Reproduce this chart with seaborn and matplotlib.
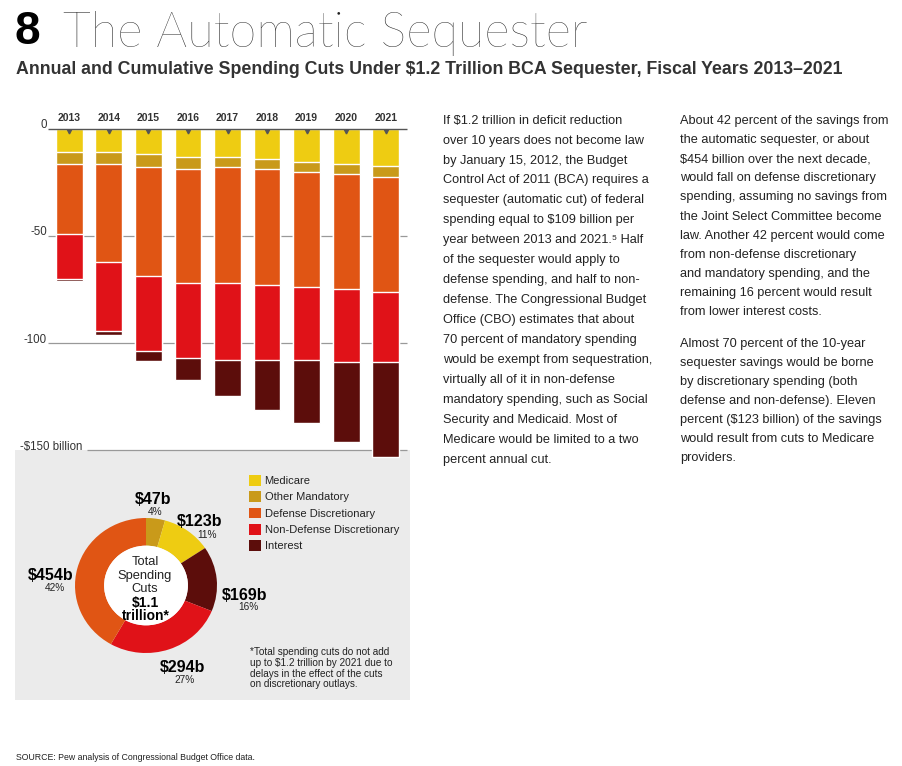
import matplotlib
matplotlib.use("Agg")
import matplotlib.pyplot as plt
from matplotlib.patches import Rectangle, Circle, Patch
import seaborn as sns
import pandas as pd
import numpy as np

# ---- data (billions of dollars) ----
years = ["2013", "2014", "2015", "2016", "2017", "2018", "2019", "2020", "2021"]
categories = ["Medicare", "Other Mandatory", "Defense Discretionary",
              "Non-Defense Discretionary", "Interest"]
medicare = [11, 11, 12, 13, 13, 14, 15.5, 16.5, 17.5]
other_mandatory = [5.5, 5.5, 6, 6, 5, 5, 4.5, 4.5, 5]
defense = [32.5, 45.5, 50.5, 53, 54, 54, 54, 54, 53.5]
non_defense = [21, 32.5, 35, 35, 36, 35, 34, 34, 33]
interest = [1.2, 1.5, 5, 10, 16.5, 23, 29.5, 37, 44]

y_ticks = [0, -50, -100, -150]
y_tick_labels = ["0", "-50", "-100", "-$150 billion"]

# donut, clockwise from 12 o'clock
donut_names = ["Other Mandatory", "Medicare", "Interest",
               "Non-Defense Discretionary", "Defense Discretionary"]
donut_values = [47, 123, 169, 294, 454]
donut_value_labels = ["$47b", "$123b", "$169b", "$294b", "$454b"]
donut_pct_labels = ["4%", "11%", "16%", "27%", "42%"]

colors = {
    "Medicare": "#EECC12",
    "Other Mandatory": "#C99A1A",
    "Defense Discretionary": "#E05514",
    "Non-Defense Discretionary": "#E01218",
    "Interest": "#5C0D0B",
}

col1 = [
    "If $1.2 trillion in deficit reduction",
    "over 10 years does not become law",
    "by January 15, 2012, the Budget",
    "Control Act of 2011 (BCA) requires a",
    "sequester (automatic cut) of federal",
    "spending equal to $109 billion per",
    "year between 2013 and 2021.\u2075 Half",
    "of the sequester would apply to",
    "defense spending, and half to non-",
    "defense. The Congressional Budget",
    "Office (CBO) estimates that about",
    "70 percent of mandatory spending",
    "would be exempt from sequestration,",
    "virtually all of it in non-defense",
    "mandatory spending, such as Social",
    "Security and Medicaid. Most of",
    "Medicare would be limited to a two",
    "percent annual cut.",
]
col2a = [
    "About 42 percent of the savings from",
    "the automatic sequester, or about",
    "$454 billion over the next decade,",
    "would fall on defense discretionary",
    "spending, assuming no savings from",
    "the Joint Select Committee become",
    "law. Another 42 percent would come",
    "from non-defense discretionary",
    "and mandatory spending, and the",
    "remaining 16 percent would result",
    "from lower interest costs.",
]
col2b = [
    "Almost 70 percent of the 10-year",
    "sequester savings would be borne",
    "by discretionary spending (both",
    "defense and non-defense). Eleven",
    "percent ($123 billion) of the savings",
    "would result from cuts to Medicare",
    "providers.",
]
footnote = ["*Total spending cuts do not add",
            "up to $1.2 trillion by 2021 due to",
            "delays in the effect of the cuts",
            "on discretionary outlays."]

sns.set_theme(style="white")
plt.rcParams['font.family'] = ['Liberation Sans', 'DejaVu Sans']

W, H = 902, 766
fig = plt.figure(figsize=(W / 100, H / 100), dpi=100)
fig.patch.set_facecolor("white")


def rect(x, y, w, h):
    return [x / W, 1 - (y + h) / H, w / W, h / H]


def ftext(x, y, s, **kw):
    fig.text(x / W, 1 - y / H, s, **kw)


# grey panel behind the donut
fig.patches.append(Rectangle((15 / W, 1 - 700 / H), 395 / W, 250 / H,
                             transform=fig.transFigure, facecolor="#EBEBEB",
                             edgecolor="none", zorder=-1))

# ---- titles ----
ftext(15, 32, "8", fontsize=33, fontweight="bold", color="black", va="center")
ftext(63, 33, "The Automatic Sequester", fontsize=35, fontweight=100,
      family=["Lato", "DejaVu Sans"], color="#222", va="center")
ftext(16, 70, "Annual and Cumulative Spending Cuts Under $1.2 Trillion BCA Sequester, Fiscal Years 2013\u20132021",
      fontsize=12.75, fontweight="bold", color="#333", va="center")

# ---- stacked bars ----
df = pd.DataFrame({"year": years, "Medicare": medicare, "Other Mandatory": other_mandatory,
                   "Defense Discretionary": defense, "Non-Defense Discretionary": non_defense,
                   "Interest": interest})
cum = df[categories].cumsum(axis=1)

ax = fig.add_axes(rect(48, 128.7, 359, 332.3))
ax.set_facecolor("none")
x0 = -0.54
for name in reversed(categories):
    sns.barplot(x=df["year"], y=-cum[name], color=colors[name], saturation=1,
                width=0.68, errorbar=None, ax=ax, zorder=2)

ax.set_xlim(x0, 8.54)
ax.set_ylim(-155, 0)
line_starts = [x0, x0, x0, x0 + 39 / 39.5]
label_ends = [x0 - 0.03, x0 - 0.03, x0 - 0.03, x0 + 34 / 39.5]
for yv, lab, xs, xe in zip(y_ticks, y_tick_labels, line_starts, label_ends):
    ax.hlines(yv, xs, 8.54, color="#555" if yv == 0 else "#999",
              lw=1.0 if yv == 0 else 0.9, zorder=1 if yv else 3, clip_on=False)
    ax.text(xe, yv + 1.6, lab, ha="right", va="center", fontsize=8.3,
            color="#333", clip_on=False)

ax.plot(range(len(years)), [-0.9] * len(years), linestyle="none", marker="v",
        markersize=3.5, color="#555", zorder=4)
ax.xaxis.tick_top()
ax.tick_params(axis="x", length=0, pad=4, labelsize=7.5, labelcolor="#333")
for lbl in ax.get_xticklabels():
    lbl.set_fontweight("bold")
ax.set_yticks([])
ax.set_xlabel("")
ax.set_ylabel("")
sns.despine(ax=ax, left=True, bottom=True)
ax.spines["top"].set_visible(False)

# ---- donut ----
dax = fig.add_axes(rect(75, 518, 142, 135))
dax.pie(donut_values, colors=[colors[n] for n in donut_names], startangle=90,
        counterclock=False, radius=1, wedgeprops=dict(width=0.41, edgecolor="none"))
dax.add_patch(Circle((0, 0), 0.59, facecolor="white", edgecolor="none"))
dax.set_xlim(-1, 1)
dax.set_ylim(-1, 1)
dax.set_aspect("auto")
dax.axis("off")

value_pos = [(153, 499), (200, 522), (245, 595), (183, 667), (51, 575)]
pct_pos = [(155, 512), (207, 535), (248, 607), (185, 680), (55, 588)]
for (vx, vy), (px_, py_), v, p in zip(value_pos, pct_pos, donut_value_labels, donut_pct_labels):
    ftext(vx, vy, v, fontsize=11.5, fontweight="bold", color="black", ha="center", va="center")
    ftext(px_, py_, p, fontsize=7.3, color="#222", ha="center", va="center")

ftext(145, 562, "Total", fontsize=9.3, color="#222", ha="center", va="center")
ftext(145, 576, "Spending", fontsize=9.3, color="#222", ha="center", va="center")
ftext(145, 589, "Cuts", fontsize=9.3, color="#222", ha="center", va="center")
ftext(145, 603, "$1.1", fontsize=10, fontweight="bold", color="black", ha="center", va="center")
ftext(146, 616, "trillion*", fontsize=10, fontweight="bold", color="black", ha="center", va="center")

# legend
handles = [Patch(facecolor=colors[c], edgecolor="none") for c in categories]
fig.legend(handles, categories, loc="upper left", bbox_to_anchor=(249 / W, 1 - 475 / H),
           frameon=False, fontsize=8, handlelength=1.1, handleheight=1.1,
           handletextpad=0.3, labelspacing=0.47, borderpad=0, borderaxespad=0,
           labelcolor="#222")

for i, line in enumerate(footnote):
    ftext(250, 652 + 10.8 * i, line, fontsize=7.2, color="#222", va="center")

# ---- body text ----
for i, line in enumerate(col1):
    ftext(443, 120.7 + 19.93 * i, line, fontsize=9.2, color="#222", va="center")
for i, line in enumerate(col2a):
    ftext(680, 120.7 + 19.17 * i, line, fontsize=9.2, color="#222", va="center")
for i, line in enumerate(col2b):
    ftext(680, 344.3 + 19.0 * i, line, fontsize=9.2, color="#222", va="center")

ftext(16, 757, "SOURCE: Pew analysis of Congressional Budget Office data.", fontsize=6.3,
      color="#222", va="center")

fig.savefig("out.png", dpi=100)
